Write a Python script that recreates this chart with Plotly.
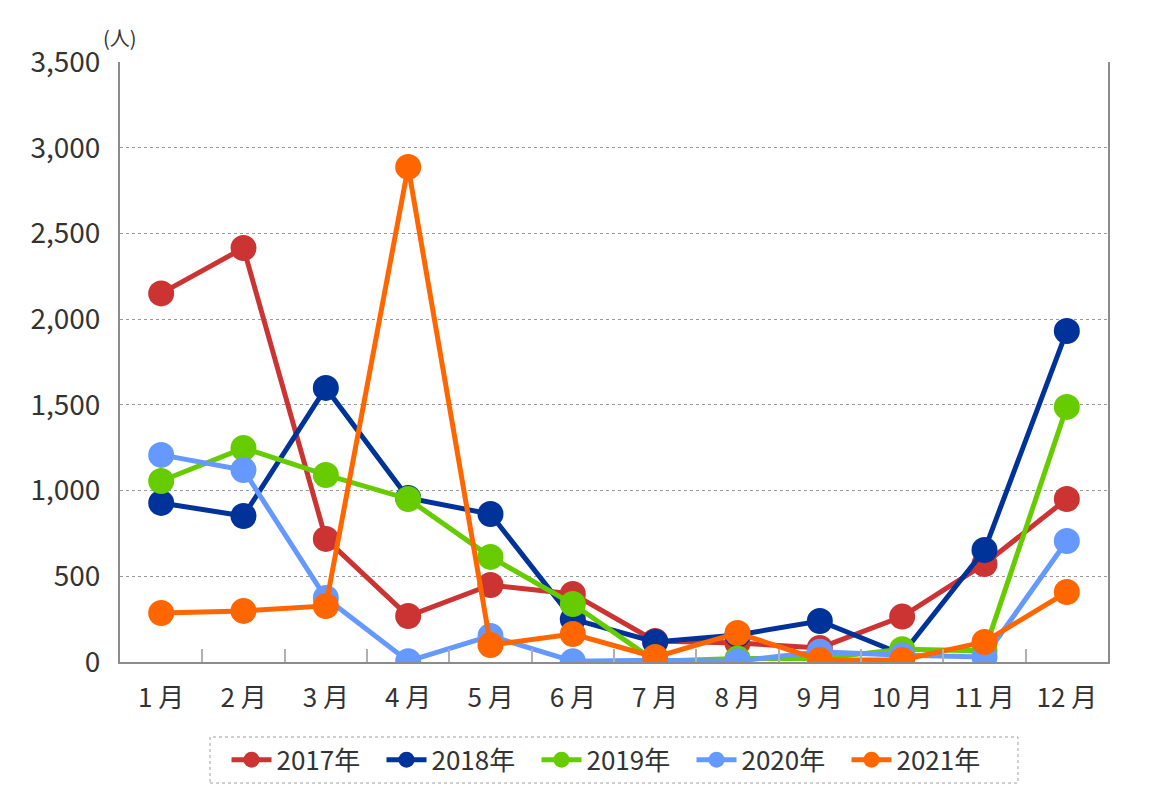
import plotly.graph_objects as go

months = ["1 月", "2 月", "3 月", "4 月", "5 月", "6 月", "7 月", "8 月", "9 月", "10 月", "11 月", "12 月"]
y2017 = [2150, 2415, 718, 268, 449, 397, 123, 111, 82, 265, 572, 951]
y2018 = [928, 852, 1599, 957, 863, 250, 117, 158, 239, 45, 653, 1931]
y2019 = [1056, 1248, 1091, 951, 613, 338, 5, 20, 20, 75, 65, 1488]
y2020 = [1208, 1120, 373, 5, 152, 5, 10, 5, 60, 40, 29, 706]
y2021 = [286, 298, 327, 2888, 99, 163, 29, 169, 12, 12, 117, 408]
series_names = ["2017年", "2018年", "2019年", "2020年", "2021年"]
colors = ["#cc3333", "#003399", "#66cc00", "#6699ff", "#ff6600"]
ytick_vals = [0, 500, 1000, 1500, 2000, 2500, 3000, 3500]
ytick_text = ["0", "500", "1,000", "1,500", "2,000", "2,500", "3,000", "3,500"]

FONT = "Noto Sans CJK JP"
fig = go.Figure()
for name, vals, c in zip(series_names, [y2017, y2018, y2019, y2020, y2021], colors):
    fig.add_trace(go.Scatter(
        x=months, y=vals, name=name, mode="lines+markers",
        line=dict(color=c, width=5), marker=dict(color=c, size=26),
    ))

fig.update_layout(
    width=1153, height=793,
    margin=dict(l=120, r=45, t=62, b=131, autoexpand=False),
    plot_bgcolor="white", paper_bgcolor="white",
    font=dict(family=FONT, color="#333333"),
    showlegend=True,
    legend=dict(orientation="h", x=0.5, xanchor="center", y=-0.163, yanchor="middle",
                font=dict(size=26, family=FONT, color="#333333"),
                entrywidth=100, itemwidth=40, borderwidth=0, bgcolor="rgba(0,0,0,0)"),
    xaxis=dict(type="category", range=[-0.5, 11.5], categoryorder="array", categoryarray=months,
               showgrid=False, zeroline=False, showline=True, linecolor="#8c8c8c", linewidth=2,
               ticks="inside", tickson="boundaries", ticklen=13, tickcolor="#b0b0b0", tickwidth=1.5,
               tickfont=dict(size=26, family=FONT, color="#333333"), ticklabelstandoff=12),
    yaxis=dict(range=[0, 3500], tickmode="array", tickvals=ytick_vals, ticktext=ytick_text,
               showgrid=True, gridcolor="#9a9a9a", griddash="dot", gridwidth=1,
               zeroline=False, showline=True, mirror=True, linecolor="#8c8c8c", linewidth=2,
               ticks="", tickfont=dict(size=28, family=FONT, color="#333333"), ticklabelstandoff=12),
    shapes=[dict(type="rect", xref="paper", yref="paper", x0=0.0911, x1=0.9089, y0=-0.2017, y1=-0.125,
                 line=dict(color="#a0a0a0", width=1, dash="dot"), fillcolor="rgba(0,0,0,0)")],
    annotations=[dict(text="(人)", xref="paper", yref="paper", x=0.0, y=1.0, xanchor="center", yanchor="bottom",
                      yshift=8, showarrow=False, font=dict(size=20, family=FONT, color="#333333"))],
)

fig.write_html("out.html")
